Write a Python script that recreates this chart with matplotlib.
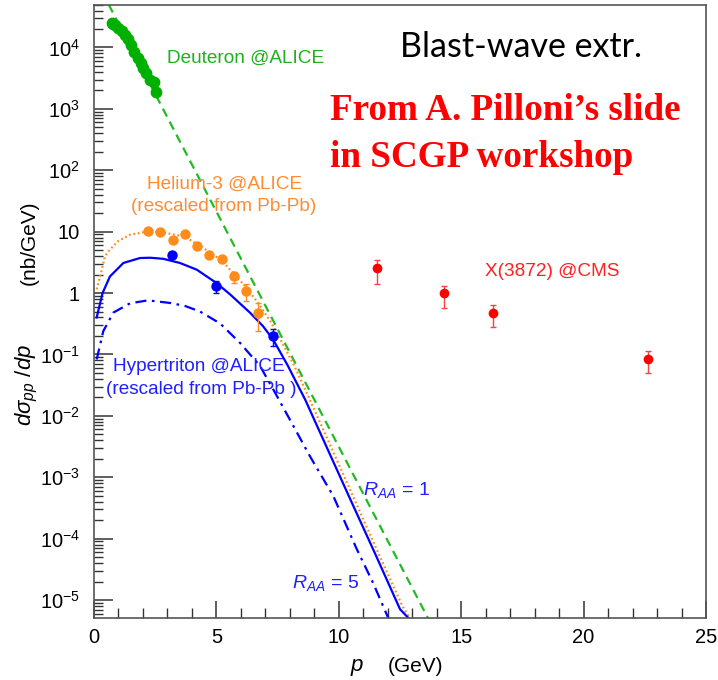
import numpy as np
import matplotlib
matplotlib.use("Agg")
import matplotlib.pyplot as plt
from matplotlib.ticker import FixedLocator, FixedFormatter, LogLocator, MultipleLocator, NullFormatter

plt.rcParams["font.family"] = ["Liberation Sans", "DejaVu Sans"]
plt.rcParams["mathtext.fontset"] = "custom"
plt.rcParams["mathtext.rm"] = "Liberation Sans"
plt.rcParams["mathtext.it"] = "Liberation Sans:italic"
plt.rcParams["mathtext.sf"] = "Liberation Sans"

# Deuteron @ALICE (pp)
deut_pt = [0.72, 0.78, 0.86, 0.99, 1.13, 1.27, 1.40, 1.51, 1.65, 1.78, 1.92,
           2.01, 2.11, 2.29, 2.44, 2.55]
deut_y = [25100, 24000, 22900, 20900, 18600, 16200, 13500, 11000, 8500, 6800,
          5600, 4600, 3800, 2950, 2700, 1900]

# exponential extrapolation (green dashed)
deut_fit_pt = [0.60, 13.64]
deut_fit_y = [5.0e4, 5.1e-6]

# Helium-3 @ALICE, rescaled from Pb-Pb
he3_pt = [2.22, 2.70, 3.21, 3.72, 4.19, 4.71, 5.22, 5.72, 6.21, 6.71]
he3_y = [10.1, 9.9, 7.4, 9.2, 5.9, 4.1, 3.6, 1.9, 1.07, 0.47]
he3_err_lo = [0, 0, 0, 0, 0, 0, 0, 0.42, 0.33, 0.23]
he3_err_hi = [0, 0, 0, 0, 0, 0, 0, 0.29, 0.31, 0.22]

he3_bw_pt = [0.11, 0.25, 0.45, 0.65, 1.0, 1.47, 2.15, 2.7, 3.2, 3.7, 4.2, 4.7,
             5.2, 5.7, 6.2, 6.7, 7.2, 7.6, 8.2, 8.75, 9.7, 10.6, 11.6, 12.6, 12.9]
he3_bw_y = [1.15, 1.86, 4.0, 5.1, 7.1, 8.9, 10.0, 9.8, 9.1, 8.3, 6.3, 4.7,
            3.4, 2.1, 1.26, 0.69, 0.35, 0.18, 0.063, 0.0209, 3.0e-3, 4.7e-4,
            6.0e-5, 7.9e-6, 5.1e-6]

# Hypertriton @ALICE, rescaled from Pb-Pb
h3l_pt = [3.19, 4.97, 7.30]
h3l_y = [4.2, 1.32, 0.20]
h3l_err_lo = [0, 0.30, 0.062]
h3l_err_hi = [0, 0.23, 0.058]

# blast-wave curves for R_AA = 1 and R_AA = 5
raa1_pt = [0.11, 0.35, 0.65, 1.2, 1.88, 2.3, 2.83, 3.51, 4.2, 5.01, 5.56, 6.37,
           6.9, 7.32, 7.9, 8.62, 9.55, 10.47, 11.5, 12.5, 12.84]
raa1_y = [0.40, 1.0, 1.86, 3.09, 3.72, 3.76, 3.61, 3.09, 2.40, 1.45, 0.95, 0.48,
          0.29, 0.174, 0.0676, 0.0186, 2.82e-3, 4.37e-4, 5.5e-5, 7.1e-6, 5.1e-6]
raa5_pt = [0.11, 0.38, 0.79, 1.47, 2.2, 3.1, 3.7, 4.33, 5.15, 5.96, 6.78, 7.32,
           8.0, 8.82, 9.78, 10.73, 11.4, 12.02]
raa5_y = [0.083, 0.24, 0.48, 0.68, 0.76, 0.69, 0.62, 0.50, 0.32, 0.155, 0.065,
          0.027, 8.7e-3, 2.2e-3, 4.9e-4, 6.8e-5, 1.9e-5, 5.1e-6]

# X(3872) @CMS
x_pt = [11.55, 14.31, 16.31, 22.64]
x_y = [2.57, 1.0, 0.48, 0.085]
x_err_lo = [1.14, 0.43, 0.20, 0.036]
x_err_hi = [0.93, 0.29, 0.15, 0.028]

ytick_vals = [1e-5, 1e-4, 1e-3, 1e-2, 1e-1, 1, 10, 1e2, 1e3, 1e4]
ytick_text = [r"$10^{-5}$", r"$10^{-4}$", r"$10^{-3}$", r"$10^{-2}$", r"$10^{-1}$",
              "1", "10", r"$10^{2}$", r"$10^{3}$", r"$10^{4}$"]

green = "#00b000"
orange = "#ff8c1a"
blue = "#0000ff"
red = "#ff0000"

W, H = 718, 680
fig = plt.figure(figsize=(W / 100, H / 100), dpi=100)
ax = fig.add_axes([94 / W, 62 / H, 612 / W, 613.5 / H])
ax.set_yscale("log")
ax.set_xlim(0, 25)
ax.set_ylim(10 ** -5.293, 10 ** 4.70)

# curves
ax.plot(deut_fit_pt, deut_fit_y, color="#22bb22", lw=1.6, ls=(0, (4, 2.6)))
ax.plot(he3_bw_pt, he3_bw_y, color=orange, lw=1.6, ls=(0, (0.8, 1.2)))
ax.plot(raa1_pt, raa1_y, color=blue, lw=1.6)
ax.plot(raa5_pt, raa5_y, color=blue, lw=1.6, ls=(0, (5, 2.5, 1.2, 2.5)))

# data points
ax.plot(deut_pt, deut_y, "o", color=green, ms=8.5, mec="none")
ax.errorbar(he3_pt, he3_y, yerr=[he3_err_lo, he3_err_hi], fmt="o", color=orange,
            ms=7.5, mec="none", elinewidth=1, capsize=2.2, capthick=1)
ax.errorbar(h3l_pt, h3l_y, yerr=[h3l_err_lo, h3l_err_hi], fmt="o", color=blue,
            ms=7.5, mec="none", elinewidth=1, capsize=2.2, capthick=1)
ax.errorbar(x_pt, x_y, yerr=[x_err_lo, x_err_hi], fmt="o", color=red,
            ms=7, mec="none", elinewidth=1, ecolor="#ff4040", capsize=2.5, capthick=1)

# axes styling (ROOT-like inward ticks)
for s in ax.spines.values():
    s.set_color("#555555")
    s.set_linewidth(1.2)
ax.xaxis.set_major_locator(MultipleLocator(5))
ax.xaxis.set_minor_locator(MultipleLocator(1))
ax.yaxis.set_major_locator(FixedLocator(ytick_vals))
ax.yaxis.set_major_formatter(FixedFormatter(ytick_text))
ax.yaxis.set_minor_locator(LogLocator(base=10, subs=np.arange(2, 10), numticks=20))
ax.yaxis.set_minor_formatter(NullFormatter())
ax.tick_params(axis="both", which="both", direction="in", top=False, right=False,
               color="#333333", labelsize=14.5)
ax.tick_params(axis="x", which="major", length=12, width=1.1, pad=7)
ax.tick_params(axis="x", which="minor", length=7, width=1.0)
ax.tick_params(axis="y", which="major", length=13.5, width=1.1, pad=10)
ax.tick_params(axis="y", which="minor", length=6.5, width=1.0)

# axis titles
fig.text(29 / W, 1 - 243 / H, "(nb/GeV)", rotation=90, ha="center", va="center", fontsize=15)
fig.text(27 / W, 1 - 385 / H, r"$d\sigma_{pp}\ /dp$", rotation=90, ha="center",
         va="center", fontsize=16)
fig.text(357 / W, 1 - 667 / H, r"$p$", ha="center", va="center", fontsize=16)
fig.text(415 / W, 1 - 667 / H, "(GeV)", ha="center", va="center", fontsize=15)

# annotations
ax.text(2.98, 10 ** 3.816, "Deuteron @ALICE", color="#1faf1f", fontsize=13.7,
        ha="left", va="center")
ax.text(5.35, 10 ** 1.767, "Helium-3 @ALICE", color="#ff8c33", fontsize=13.7,
        ha="center", va="center")
ax.text(5.31, 10 ** 1.414, "(rescaled from Pb-Pb)", color="#ff8c33", fontsize=13.7,
        ha="center", va="center")
ax.text(0.79, 10 ** -1.19, "Hypertriton @ALICE", color="#2020ff", fontsize=13.7,
        ha="left", va="center")
ax.text(0.49, 10 ** -1.57, "(rescaled from Pb-Pb )", color="#2020ff", fontsize=13.7,
        ha="left", va="center")
ax.text(15.97, 10 ** 0.355, "X(3872) @CMS", color="#ff2020", fontsize=13.7,
        ha="left", va="center")
ax.text(11.0, 10 ** -3.2, r"$R_{AA}$ = 1", color="#2020ff", fontsize=14,
        ha="left", va="center")
ax.text(8.07, 10 ** -4.72, r"$R_{AA}$ = 5", color="#2020ff", fontsize=14,
        ha="left", va="center")

fig.text(521.5 / W, 1 - 46.7 / H, "Blast-wave extr.", fontsize=24.5, family="Lato",
         ha="center", va="center", color="black")
fig.text(330 / W, 1 - 120 / H, "From A. Pilloni\u2019s slide", fontsize=26.7,
         family="Liberation Serif", weight="bold", color=red, ha="left", va="baseline")
fig.text(330 / W, 1 - 166.7 / H, "in SCGP workshop", fontsize=26.7,
         family="Liberation Serif", weight="bold", color=red, ha="left", va="baseline")

fig.savefig("out.png", dpi=100)
